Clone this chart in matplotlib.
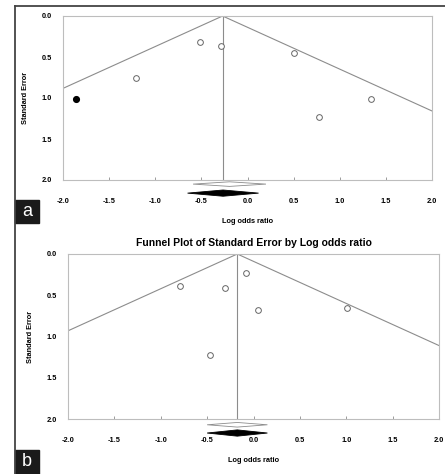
import numpy as np
import matplotlib
matplotlib.use("Agg")
import matplotlib.pyplot as plt
from matplotlib.patches import Polygon, Rectangle
from matplotlib.lines import Line2D

plt.rcParams['font.family'] = ['Liberation Sans', 'DejaVu Sans']

# panel a
a_lor = [-1.21, -0.52, -0.29, 0.50, 0.77, 1.34]
a_se = [0.75, 0.32, 0.37, 0.45, 1.235, 1.01]
a_imp_lor = [-1.86]
a_imp_se = [1.01]
a_center = -0.27
a_diamond_open = (-0.59, 0.20)
a_diamond_fill = (-0.65, 0.12)

# panel b
b_lor = [-0.79, -0.31, -0.08, 0.045, 1.01, -0.465]
b_se = [0.39, 0.41, 0.225, 0.68, 0.66, 1.23]
b_center = -0.175
b_diamond_open = (-0.50, 0.15)
b_diamond_fill = (-0.50, 0.15)

xticks = [-2.0, -1.5, -1.0, -0.5, 0.0, 0.5, 1.0, 1.5, 2.0]
yticks = [0.0, 0.5, 1.0, 1.5, 2.0]
grey = '#8c8c8c'

fig = plt.figure(figsize=(4.45, 4.74), dpi=100)
W, H = 445, 474


def make_ax(l, t, r, b):
    return fig.add_axes([l / W, 1 - b / H, (r - l) / W, (b - t) / H])


def diamond(ax, lo, hi, yc, hh, filled):
    mid = (lo + hi) / 2
    pts = [(lo, yc), (mid, yc - hh), (hi, yc), (mid, yc + hh)]
    ax.add_patch(Polygon(pts, closed=True, clip_on=False,
                         facecolor='black' if filled else 'white',
                         edgecolor='black' if filled else grey, lw=0.6))


def funnel(ax, lor, se, center, d_open, d_fill, y_open, y_fill, imp=None):
    xs = np.array([-2.0, center, 2.0])
    ys = np.abs(xs - center) / 1.96
    ax.plot(xs, ys, color=grey, lw=0.8)
    ax.plot([center, center], [0, 2.0], color=grey, lw=0.8)
    ax.scatter(lor, se, s=17, facecolors='white', edgecolors='#666666', lw=0.7, zorder=3)
    if imp is not None:
        ax.scatter(imp[0], imp[1], s=17, color='black', zorder=3)
    diamond(ax, d_open[0], d_open[1], y_open, 0.028, False)
    diamond(ax, d_fill[0], d_fill[1], y_fill, 0.038, True)
    ax.set_xlim(-2, 2)
    ax.set_ylim(2, 0)
    ax.set_xticks(xticks)
    ax.set_yticks(yticks)
    ax.set_xticklabels(['%.1f' % v for v in xticks], fontsize=5.3, fontweight='bold')
    ax.set_yticklabels(['%.1f' % v for v in yticks], fontsize=5.3, fontweight='bold')
    ax.tick_params(axis='x', direction='in', length=2, color=grey, pad=13, width=0.6)
    ax.tick_params(axis='y', length=0, pad=8)
    for s in ax.spines.values():
        s.set_color('#bdbdbd')
        s.set_linewidth(0.8)
    ax.set_xlabel('Log odds ratio', fontsize=5.3, fontweight='bold', labelpad=9)
    ax.set_ylabel('Standard Error', fontsize=5.3, fontweight='bold', labelpad=9)


ax_a = make_ax(63, 16, 432, 180)
funnel(ax_a, a_lor, a_se, a_center, a_diamond_open, a_diamond_fill, 2.05, 2.16,
       imp=(a_imp_lor, a_imp_se))

ax_b = make_ax(68, 254, 439, 419)
funnel(ax_b, b_lor, b_se, b_center, b_diamond_open, b_diamond_fill, 2.07, 2.17)
ax_b.set_title('Funnel Plot of Standard Error by Log odds ratio', fontsize=7.5,
               fontweight='bold', pad=6)

# frame lines
fig.add_artist(Line2D([15 / W, 15 / W], [0, 1 - 6 / H], color='#444444', lw=1.3))
fig.add_artist(Line2D([15 / W, 1], [1 - 6 / H, 1 - 6 / H], color='#444444', lw=1.3))

# panel letters
for letter, top, bot in [('a', 200, 223), ('b', 450, 474)]:
    fig.add_artist(Rectangle((15 / W, 1 - bot / H), 24 / W, (bot - top) / H,
                             transform=fig.transFigure, color='#1a1a1a'))
    fig.text(27 / W, 1 - (top + bot) / 2 / H, letter, color='white', fontsize=13,
             ha='center', va='center')

fig.savefig('out.png', dpi=100)
